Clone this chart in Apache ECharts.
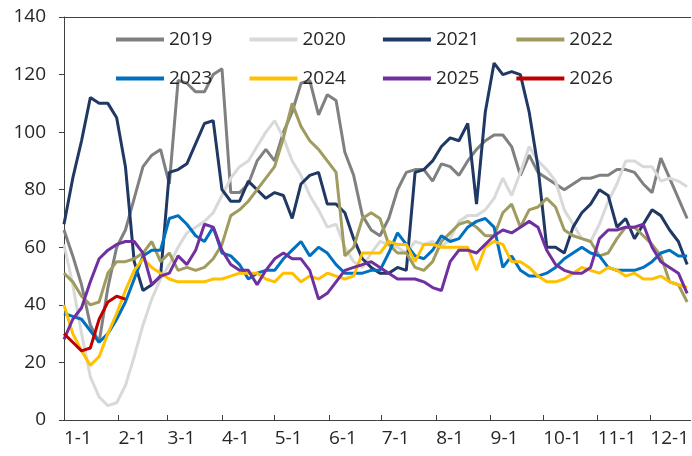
<!DOCTYPE html>
<html>
<head>
<meta charset="utf-8">
<script src="https://cdn.jsdelivr.net/npm/echarts@6/dist/echarts.min.js"></script>
<style>
html, body { margin: 0; padding: 0; background: #fff; }
#chart { width: 692px; height: 456px; }
</style>
</head>
<body>
<div id="chart"></div>
<script>
// 横轴：一年中的第几天（每5天取一个点）
var days = [0,5,10,15,20,25,30,35,40,45,50,55,60,65,70,75,80,85,90,95,
  100,105,110,115,120,125,130,135,140,145,150,155,160,165,170,175,180,185,190,195,
  200,205,210,215,220,225,230,235,240,245,250,255,260,265,270,275,280,285,290,295,
  300,305,310,315,320,325,330,335,340,345,350,355];

// 月份刻度
var monthStarts = [0,31,59,90,120,151,181,212,243,273,304,334];
var monthLabels = ['1-1','2-1','3-1','4-1','5-1','6-1','7-1','8-1','9-1','10-1','11-1','12-1'];

var yTicks = [0,20,40,60,80,100,120,140];

var v2019 = [66,57,47,33,27,46,60,66,77,88,92,94,82,118,117,114,114,120,122,79,
  79,82,90,94,90,100,107,117,118,106,113,111,93,85,71,66,64,70,80,86,
  87,87,83,89,88,85,90,94,97,99,99,95,85,92,86,84,82,80,82,84,
  84,85,85,87,87,86,82,79,91,84,77,70];

var v2020 = [61,47,30,15,8,5,6,12,22,33,42,49,54,60,65,67,69,72,78,84,
  88,90,95,100,104,98,90,85,78,73,67,68,60,55,53,58,62,61,60,58,
  62,61,62,60,63,69,71,71,73,77,84,78,86,95,90,87,83,73,68,63,
  62,68,76,82,90,90,88,88,83,84,83,81];

var v2021 = [68,84,97,112,110,110,105,88,55,45,47,50,86,87,89,96,103,104,80,76,
  76,83,80,77,79,78,70,82,85,86,75,75,72,63,56,53,51,51,53,52,
  86,87,90,95,98,97,103,75,107,124,120,121,120,107,88,60,60,58,67,72,
  75,80,78,67,70,63,68,73,71,66,62,54];

var v2022 = [51,48,43,40,41,51,55,55,56,58,62,55,58,52,53,52,53,56,61,71,
  73,76,80,84,88,98,110,102,97,94,90,86,57,60,70,72,70,61,58,58,
  53,52,55,62,65,68,69,67,64,64,72,75,67,73,74,77,74,66,64,63,
  62,57,58,63,67,67,64,61,57,48,47,41];

var v2023 = [37,36,35,31,27,30,35,41,49,57,59,59,70,71,68,64,62,67,58,57,
  54,49,51,52,52,56,59,62,57,60,58,54,51,51,51,52,52,58,65,61,
  57,56,59,64,62,63,67,69,70,67,53,57,52,50,50,51,53,56,58,60,
  58,57,53,52,52,52,53,55,58,59,57,57];

var v2024 = [40,30,24,19,22,30,37,45,52,56,53,51,49,48,48,48,48,49,49,50,
  51,51,51,49,48,51,51,48,50,49,51,50,49,50,58,58,58,62,61,61,
  55,61,61,60,60,60,60,52,60,62,61,55,55,53,50,48,48,49,51,53,
  52,51,53,52,50,51,49,49,50,48,47,46];

var v2025 = [28,35,39,48,56,59,61,62,62,58,47,50,51,57,54,59,68,67,59,54,
  52,52,47,52,56,58,56,56,52,42,44,48,52,53,54,55,53,51,49,49,
  49,48,46,45,55,59,59,58,61,64,66,65,67,69,67,59,54,52,51,51,
  53,63,66,66,67,67,68,60,55,53,51,44];

var v2026 = [30,27,24,25,35,41,43,42];

var years = ['2019','2020','2021','2022','2023','2024','2025','2026'];
var colors = ['#808080','#d9d9d9','#1f3864','#a09b5f','#0070c0','#ffc000','#7030a0','#c00000'];
var values = [v2019, v2020, v2021, v2022, v2023, v2024, v2025, v2026];

var chart = echarts.init(document.getElementById('chart'));

var textStyle = { fontFamily: 'Open Sans', fontSize: 19, color: '#262626' };

var series = years.map(function (y, k) {
  return {
    name: y,
    type: 'line',
    symbol: 'none',
    animation: false,
    color: colors[k],
    lineStyle: { width: 3, color: colors[k] },
    data: values[k].map(function (v, i) { return [days[i], v]; })
  };
});

var legendBase = {
  icon: 'path://M0,0 L48,0 L48,4 L0,4 Z',
  itemWidth: 48,
  itemHeight: 4,
  itemGap: 37,
  padding: 0,
  textStyle: textStyle,
  selectedMode: false
};

chart.setOption({
  backgroundColor: '#fff',
  textStyle: { fontFamily: 'Open Sans' },
  grid: { left: 64, right: 0, top: 17, bottom: 36 },
  legend: [
    Object.assign({}, legendBase, { left: 116, top: 30, data: years.slice(0, 4) }),
    Object.assign({}, legendBase, { left: 116, top: 69, data: years.slice(4) })
  ],
  xAxis: [{
    type: 'value',
    min: 0,
    max: 357,
    splitLine: { show: false },
    axisLine: { show: true, lineStyle: { color: '#404040', width: 1 } },
    axisTick: {
      show: true, inside: true, length: 5,
      customValues: monthStarts,
      lineStyle: { color: '#404040' }
    },
    axisLabel: {
      customValues: monthStarts,
      align: 'left',
      margin: 9,
      fontFamily: 'Open Sans', fontSize: 19, color: '#262626',
      formatter: function (v) { return monthLabels[monthStarts.indexOf(v)]; }
    }
  }, {
    type: 'value',
    position: 'top',
    min: 0,
    max: 357,
    splitLine: { show: false },
    axisLine: { show: true, onZero: false, lineStyle: { color: '#404040', width: 1 } },
    axisTick: { show: false },
    axisLabel: { show: false }
  }],
  yAxis: {
    type: 'value',
    min: 0,
    max: 140,
    interval: 20,
    splitLine: { show: false },
    axisLine: { show: true, lineStyle: { color: '#404040', width: 1 } },
    axisTick: { show: true, inside: false, length: 5, lineStyle: { color: '#404040' } },
    axisLabel: {
      margin: 18,
      fontFamily: 'Open Sans', fontSize: 19, color: '#262626',
      formatter: function (v) { return yTicks.indexOf(v) >= 0 ? String(v) : ''; }
    }
  },
  series: series
});
</script>
</body>
</html>
